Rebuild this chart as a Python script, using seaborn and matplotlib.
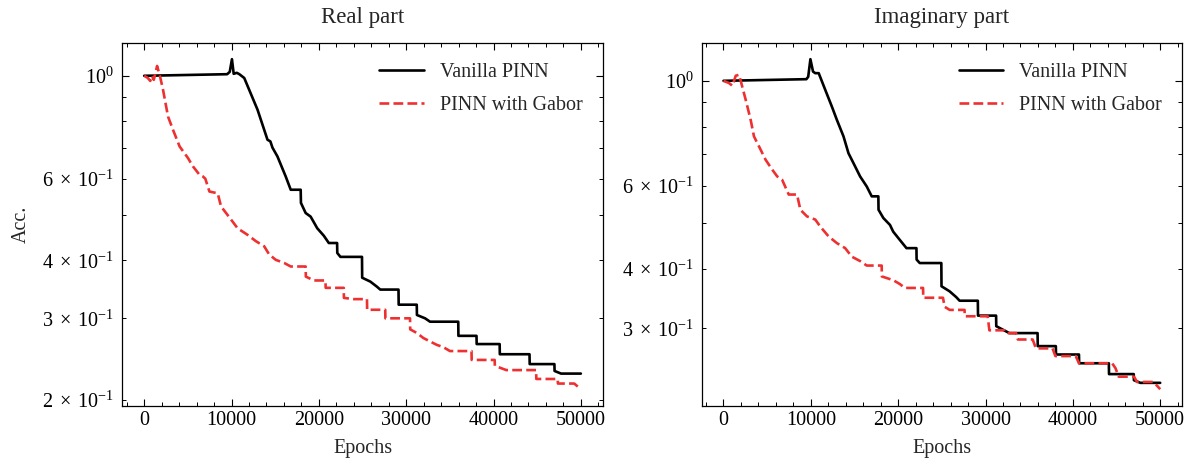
import math
import numpy as np
import pandas as pd
import matplotlib
matplotlib.use("Agg")
import matplotlib.pyplot as plt
import matplotlib.ticker as mticker
import seaborn as sns

# ---------------- data ----------------
panel_titles = ["Real part", "Imaginary part"]
series_names = ["Vanilla PINN", "PINN with Gabor"]

real_vanilla_x = [0, 9500, 9800, 10050, 10250, 10600, 10900, 11460, 12980, 14120, 14450, 14690,
                  15260, 16200, 16780, 17920, 17950, 18490, 19060, 19820, 20570, 21140, 22090,
                  22110, 22470, 24940, 24960, 25890, 26650, 27030, 29120, 29140, 29690, 31210,
                  31230, 32160, 32730, 35960, 35980, 38050, 38070, 40700, 40720, 44120, 44140,
                  46970, 46990, 47730, 50000]
real_vanilla_y = [1.0, 1.008, 1.02, 1.086, 1.01, 1.015, 1.008, 0.989, 0.845, 0.728, 0.722, 0.70,
                  0.670, 0.607, 0.568, 0.568, 0.532, 0.506, 0.497, 0.469, 0.452, 0.436, 0.436,
                  0.415, 0.407, 0.407, 0.367, 0.360, 0.351, 0.346, 0.346, 0.321, 0.321, 0.321,
                  0.305, 0.300, 0.295, 0.295, 0.275, 0.275, 0.264, 0.264, 0.251, 0.251, 0.239,
                  0.239, 0.231, 0.228, 0.228]

real_gabor_x = [0, 400, 700, 900, 1100, 1480, 1800, 2160, 2730, 3300, 4060, 5010, 5580, 6330,
                6710, 7000, 7470, 8420, 8800, 9940, 10700, 11840, 12790, 13740, 14310, 15070,
                16020, 16780, 18490, 18510, 19440, 20760, 20780, 22850, 22870, 23990, 25510,
                25530, 27600, 27620, 30440, 30460, 31210, 31970, 33490, 34250, 35010, 37480,
                37500, 40130, 40150, 41460, 44880, 44900, 47350, 47370, 49240, 50000]
real_gabor_y = [1.0, 0.99, 0.975, 1.0, 0.98, 1.05, 1.0, 0.933, 0.817, 0.765, 0.704, 0.665,
                0.638, 0.612, 0.607, 0.600, 0.563, 0.558, 0.523, 0.490, 0.469, 0.454, 0.440,
                0.429, 0.412, 0.401, 0.395, 0.388, 0.388, 0.369, 0.362, 0.362, 0.349, 0.349,
                0.332, 0.330, 0.330, 0.313, 0.313, 0.300, 0.300, 0.284, 0.279, 0.272, 0.263,
                0.260, 0.255, 0.255, 0.244, 0.244, 0.237, 0.232, 0.232, 0.222, 0.222, 0.217,
                0.217, 0.211]

imag_vanilla_x = [0, 9490, 9700, 9950, 10250, 10500, 10900, 11650, 12410, 12980, 13740, 14310,
                  14880, 15640, 16400, 16970, 17730, 17750, 18300, 19060, 19430, 20190, 20950,
                  22090, 22110, 22470, 24940, 24960, 25890, 26650, 27030, 29120, 29140, 31210,
                  31230, 31970, 32730, 35960, 35980, 38050, 38070, 40700, 40720, 44120, 44140,
                  46970, 46990, 47730, 50000]
imag_vanilla_y = [1.0, 1.008, 1.02, 1.111, 1.046, 1.038, 1.038, 0.957, 0.882, 0.827, 0.763,
                  0.703, 0.670, 0.628, 0.598, 0.570, 0.570, 0.534, 0.513, 0.496, 0.480, 0.461,
                  0.443, 0.443, 0.419, 0.412, 0.412, 0.368, 0.359, 0.349, 0.343, 0.343, 0.319,
                  0.319, 0.303, 0.298, 0.293, 0.293, 0.275, 0.275, 0.264, 0.264, 0.253, 0.253,
                  0.240, 0.240, 0.233, 0.230, 0.230]

imag_gabor_x = [0, 640, 1020, 1400, 1780, 1970, 2540, 3110, 3490, 4060, 4820, 5580, 6150, 6710,
                7470, 8420, 8800, 9560, 10510, 11080, 12030, 12980, 13930, 14690, 15640, 16400,
                18110, 18130, 19440, 20190, 20760, 22850, 22870, 25130, 25320, 25900, 27600,
                27620, 30250, 30440, 32160, 32350, 33500, 33700, 35400, 35770, 37670, 38000,
                40330, 40700, 44500, 44880, 45250, 47000, 47350, 49240, 50000]
imag_gabor_y = [1.0, 0.989, 0.976, 1.025, 1.03, 1.0, 0.912, 0.827, 0.763, 0.727, 0.681, 0.649,
                0.628, 0.618, 0.575, 0.575, 0.534, 0.517, 0.509, 0.492, 0.469, 0.454, 0.443,
                0.425, 0.416, 0.407, 0.407, 0.386, 0.379, 0.372, 0.365, 0.365, 0.348, 0.348,
                0.333, 0.328, 0.328, 0.318, 0.318, 0.297, 0.297, 0.293, 0.293, 0.284, 0.284,
                0.272, 0.272, 0.262, 0.262, 0.253, 0.253, 0.247, 0.237, 0.237, 0.231, 0.231,
                0.223]

x_label = "Epochs"
y_label = "Acc."
x_ticks = [0, 10000, 20000, 30000, 40000, 50000]


class SpacedSciFormatter(mticker.LogFormatterSciNotation):
    """Same labels as matplotlib's default, with LaTeX-like spacing around the times sign."""

    def _non_decade_format(self, sign_string, base, fx, usetex):
        b = float(base)
        exponent = math.floor(fx)
        coeff = b ** (fx - exponent)
        if abs(coeff - round(coeff)) < 1e-8:
            coeff = round(coeff)
        return r'$\mathdefault{%s%g\;\times\;%s^{%d}}$' % (sign_string, coeff, base, exponent)


# ---------------- style ----------------
sns.set_style("ticks")
plt.rcParams.update({
    "font.family": "serif",
    "font.serif": ["Liberation Serif", "DejaVu Serif"],
    "mathtext.fontset": "stix",
    "font.size": 14.5,
    "axes.linewidth": 0.9,
    "xtick.direction": "in",
    "ytick.direction": "in",
    "xtick.top": True,
    "ytick.right": True,
    "xtick.minor.visible": True,
    "ytick.minor.visible": True,
    "xtick.major.size": 5,
    "ytick.major.size": 5,
    "xtick.minor.size": 2.8,
    "ytick.minor.size": 2.8,
    "xtick.major.width": 0.8,
    "ytick.major.width": 0.8,
    "xtick.minor.width": 0.7,
    "ytick.minor.width": 0.7,
    "xtick.labelsize": 14.5,
    "ytick.labelsize": 14.5,
    "axes.edgecolor": "black",
    "xtick.color": "black",
    "ytick.color": "black",
})

colors = ["black", "#ee3030"]
styles = ["-", "--"]

fig, axes = plt.subplots(1, 2, figsize=(11.97, 4.66), dpi=100)
fig.subplots_adjust(left=0.1022, right=0.9875, bottom=0.1294, top=0.9084, wspace=0.206)

panels = [
    [(real_vanilla_x, real_vanilla_y), (real_gabor_x, real_gabor_y)],
    [(imag_vanilla_x, imag_vanilla_y), (imag_gabor_x, imag_gabor_y)],
]

for ax, title, series in zip(axes, panel_titles, panels):
    for (xs, ys), name, c, ls in zip(series, series_names, colors, styles):
        df = pd.DataFrame({"epoch": xs, "acc": ys})
        sns.lineplot(data=df, x="epoch", y="acc", ax=ax, estimator=None, sort=False,
                     color=c, linestyle=ls, linewidth=1.9, label=name)
    ax.set_yscale("log")
    ax.yaxis.set_major_formatter(SpacedSciFormatter(10))
    ax.yaxis.set_minor_formatter(SpacedSciFormatter(10, labelOnlyBase=False))
    ax.set_xticks(x_ticks)
    ax.xaxis.set_minor_locator(mticker.AutoMinorLocator(5))
    ax.set_title(title, fontsize=16.5, pad=14)
    ax.set_xlabel(x_label, labelpad=7)
    ax.set_ylabel("")
    ax.tick_params(which="both", top=True, right=True, direction="in")
    ax.tick_params(axis="y", which="both", pad=6)
    ax.legend(loc="upper right", frameon=False, fontsize=14.5,
              handlelength=2.2, borderaxespad=0.6, labelspacing=0.7)

axes[0].set_ylabel(y_label, labelpad=8)

fig.savefig("out.png", dpi=100)
